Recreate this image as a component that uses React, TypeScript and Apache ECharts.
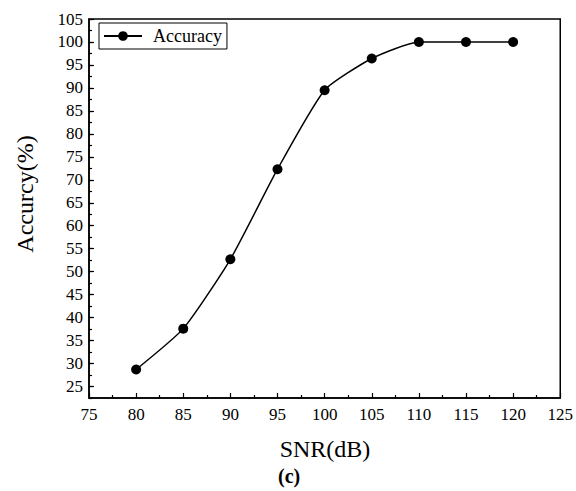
import { useEffect, useRef } from "react";
import * as echarts from "echarts";

// Recognition accuracy measured at each signal-to-noise ratio
const snrDb = [80, 85, 90, 95, 100, 105, 110, 115, 120];
const accuracy = [28.7, 37.6, 52.7, 72.3, 89.5, 96.4, 100, 100, 100];
const seriesName = "Accuracy";
const xTitle = "SNR(dB)";
const yTitle = "Accurcy(%)";
const panelLabel = "(c)";

const FONT = "Times New Roman, Liberation Serif, Tinos, DejaVu Serif, serif";
const INK = "#000";

export default function App() {
  const ref = useRef<HTMLDivElement>(null);

  useEffect(() => {
    if (!ref.current) return;
    const chart = echarts.init(ref.current, undefined, { renderer: "svg" });

    const gridBox = { left: 89, right: 14, top: 19, bottom: 93 };

    chart.setOption({
      animation: false,
      backgroundColor: "#fff",
      textStyle: { fontFamily: FONT },
      grid: [
        { ...gridBox, show: true, borderColor: INK, borderWidth: 1.5, backgroundColor: "transparent" },
        { ...gridBox, show: false },
      ],
      legend: {
        left: 99,
        top: 23,
        orient: "horizontal",
        borderColor: INK,
        borderWidth: 1,
        padding: [4, 5, 4, 4],
        itemWidth: 38,
        itemHeight: 12,
        textStyle: { fontFamily: FONT, fontSize: 18, color: INK, padding: [0, 0, 0, 6] },
        data: [seriesName],
      },
      xAxis: [
        {
          gridIndex: 0,
          type: "value",
          min: 75,
          max: 125,
          interval: 5,
          axisLine: { show: true, lineStyle: { color: INK, width: 1.5 } },
          axisTick: { show: true, inside: true, length: 5, lineStyle: { color: INK, width: 1.2 } },
          minorTick: { show: true, splitNumber: 2, length: 3, lineStyle: { color: INK, width: 1.2 } },
          splitLine: { show: false },
          minorSplitLine: { show: false },
          axisLabel: { fontFamily: FONT, fontSize: 17, color: INK, margin: 8 },
        },
        { gridIndex: 1, type: "value", min: 75, max: 125, show: false },
      ],
      yAxis: [
        {
          gridIndex: 0,
          type: "value",
          min: 22.5,
          max: 105,
          splitNumber: 16,
          minInterval: 5,
          maxInterval: 5,
          axisLine: { show: true, lineStyle: { color: INK, width: 1.5 } },
          axisTick: { show: true, inside: true, length: 5, lineStyle: { color: INK, width: 1.2 } },
          splitLine: { show: false },
          axisLabel: {
            fontFamily: FONT,
            fontSize: 17,
            color: INK,
            margin: 6,
            showMinLabel: false,
            formatter: (v: number) => (v % 5 === 0 ? String(v) : ""),
          },
        },
        {
          // half-step ticks along the left edge
          gridIndex: 1,
          type: "value",
          min: 22.5,
          max: 105,
          interval: 2.5,
          axisLine: { show: false },
          axisTick: { show: true, inside: true, length: 3, lineStyle: { color: INK, width: 1.2 } },
          axisLabel: { show: false },
          splitLine: { show: false },
        },
      ],
      series: [
        {
          name: seriesName,
          type: "line",
          xAxisIndex: 0,
          yAxisIndex: 0,
          data: snrDb.map((x, i) => [x, accuracy[i]]),
          smooth: 0.18,
          symbol: "circle",
          symbolSize: 10,
          color: INK,
          itemStyle: { color: INK },
          lineStyle: { color: INK, width: 1.5 },
        },
      ],
      graphic: [
        {
          type: "text",
          x: 325,
          y: 449,
          style: {
            text: xTitle,
            fontFamily: FONT,
            fontSize: 24,
            fill: INK,
            textAlign: "center",
            textVerticalAlign: "middle",
          },
        },
        {
          type: "text",
          x: 25,
          y: 194,
          rotation: Math.PI / 2,
          style: {
            text: yTitle,
            fontFamily: FONT,
            fontSize: 24,
            fill: INK,
            textAlign: "center",
            textVerticalAlign: "middle",
          },
        },
        {
          type: "text",
          x: 278,
          y: 476,
          style: {
            text: panelLabel,
            fontFamily: FONT,
            fontSize: 20,
            fontWeight: "bold",
            fill: INK,
            textAlign: "left",
            textVerticalAlign: "middle",
          },
        },
      ],
    });

    return () => chart.dispose();
  }, []);

  return (
    <div
      ref={ref}
      style={{ position: "fixed", left: 0, top: 0, width: 576, height: 491, background: "#fff" }}
    />
  );
}
